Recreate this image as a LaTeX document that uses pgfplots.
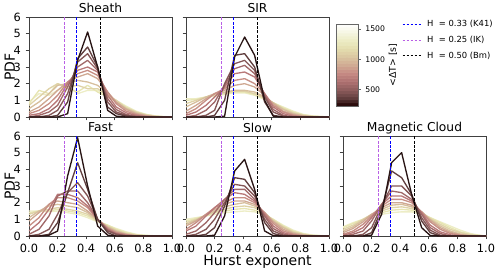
\documentclass[border=0pt]{standalone}
\usepackage{pgfplots}
\pgfplotsset{compat=1.18}
\usepackage{pgfplotstable}
\usepackage{fontspec}
\setmainfont{DejaVu Sans}

\definecolor{k01}{RGB}{40,20,20}
\definecolor{k02}{RGB}{96,62,62}
\definecolor{k03}{RGB}{132,86,86}
\definecolor{k04}{RGB}{160,104,104}
\definecolor{k05}{RGB}{184,120,120}
\definecolor{k06}{RGB}{199,143,133}
\definecolor{k07}{RGB}{207,168,146}
\definecolor{k08}{RGB}{215,191,157}
\definecolor{k09}{RGB}{223,211,168}
\definecolor{k10}{RGB}{231,229,178}
\definecolor{k11}{RGB}{237,237,198}
\definecolor{hik}{RGB}{185,95,230}

\pgfplotsset{
  colormap={mplpink}{rgb255=(30,0,0) rgb255=(101,66,66) rgb255=(143,93,93) rgb255=(176,114,114) rgb255=(198,139,132) rgb255=(208,171,147) rgb255=(218,198,161) rgb255=(228,222,174) rgb255=(237,237,198) rgb255=(246,246,228) rgb255=(255,255,255)},
  panel/.style={
    scale only axis, width=107.25pt, height=75pt, anchor=south west,
    xmin=0, xmax=1, ymin=0, ymax=6,
    xtick={0,0.2,0.4,0.6,0.8,1}, ytick={0,1,2,3,4,5,6},
    tick align=outside, tick pos=left, major tick length=2.6pt,
    axis line style={black!75, line width=0.5pt},
    tick style={black!75, line width=0.5pt},
    /pgf/number format/assume math mode=true,
    xticklabel style={font=\fontsize{8.5}{9}\selectfont, /pgf/number format/.cd, fixed, fixed zerofill, precision=1},
    yticklabel style={font=\fontsize{8.5}{9}\selectfont},
    every axis title shift=0pt,
    title style={font=\fontsize{9.2}{10}\selectfont, at={(axis description cs:0.5,1)}, anchor=base, yshift=3pt},
    ylabel style={font=\fontsize{10.5}{12}\selectfont, at={(axis description cs:-0.098,0.5)}, anchor=base, rotate=0},
    xlabel style={font=\fontsize{10.5}{12}\selectfont, at={(axis description cs:0.5,-0.29)}, anchor=base},
    every axis plot/.append style={line width=1.0pt, line join=round},
  },
}

\pgfplotstableread{
x c1 c2 c3 c4 c5 c6 c7 c8 c9 c10 c11
0.00 0 0 0 0 0.1 0.2 0.3 0.5 0.7 0.8 0.9
0.07 0 0 0 0.1 0.2 0.4 0.6 0.9 1.2 1.6 1.4
0.14 0 0 0.1 0.3 0.5 0.8 1.1 1.4 1.7 1.4 1.3
0.20 0 0.1 0.4 0.7 1.0 1.3 1.6 1.9 2.0 2.0 1.6
0.27 0.2 0.9 1.4 1.8 2.0 2.1 2.1 2.0 1.8 1.7 1.9
0.34 3.4 3.5 3.3 3.0 2.8 2.6 2.4 2.2 1.9 1.5 1.4
0.41 5.1 4.2 3.8 3.4 3.0 2.8 2.6 2.1 1.7 1.9 1.6
0.48 3.0 3.0 2.9 2.8 2.7 2.5 2.3 1.9 1.7 1.5 1.6
0.55 0.4 0.6 0.9 1.1 1.3 1.5 1.5 1.4 1.3 1.2 1.3
0.61 0.05 0.2 0.3 0.45 0.6 0.8 0.9 0.9 1.0 0.9 1.0
0.68 0 0.05 0.1 0.15 0.25 0.35 0.45 0.5 0.55 0.6 0.65
0.75 0 0 0 0.05 0.1 0.15 0.2 0.25 0.3 0.3 0.35
0.82 0 0 0 0 0 0.05 0.08 0.1 0.12 0.15 0.15
0.89 0 0 0 0 0 0 0 0.03 0.04 0.05 0.06
0.96 0 0 0 0 0 0 0 0 0 0 0.02
1.00 0 0 0 0 0 0 0 0 0 0 0
}\sheath

\pgfplotstableread{
x c1 c2 c3 c4 c5 c6 c7 c8 c9 c10 c11
0.00 0 0 0 0 0.1 0.2 0.35 0.6 0.8 1.0 1.1
0.07 0 0 0 0.1 0.3 0.5 0.7 0.9 1.0 1.05 1.1
0.14 0 0 0.1 0.4 0.7 1.0 1.1 1.2 1.2 1.2 1.2
0.20 0 0.1 0.4 0.9 1.2 1.4 1.4 1.4 1.35 1.3 1.25
0.27 0.05 1.0 2.0 1.9 1.8 1.7 1.6 1.5 1.45 1.4 1.35
0.34 3.6 3.7 3.2 2.9 2.6 2.2 1.9 1.6 1.55 1.5 1.45
0.41 4.8 3.8 3.4 3.1 2.7 2.3 2.0 1.6 1.55 1.5 1.45
0.48 3.7 3.0 2.8 2.6 2.4 2.0 1.8 1.5 1.4 1.35 1.3
0.55 1.0 0.9 1.2 1.3 1.4 1.4 1.3 1.2 1.15 1.1 1.05
0.61 0.05 0.1 0.3 0.45 0.6 0.7 0.8 0.85 0.85 0.85 0.85
0.68 0 0 0.05 0.1 0.2 0.3 0.35 0.45 0.5 0.55 0.6
0.75 0 0 0 0 0.05 0.1 0.15 0.2 0.25 0.3 0.35
0.82 0 0 0 0 0 0 0.05 0.08 0.1 0.12 0.15
0.89 0 0 0 0 0 0 0 0.02 0.03 0.05 0.06
0.96 0 0 0 0 0 0 0 0 0.01 0.02 0.02
1.00 0 0 0 0 0 0 0 0 0 0 0
}\sir

\pgfplotstableread{
x c1 c2 c3 c4 c5 c6 c7 c8 c9 c10 c11
0.00 0 0 0 0.1 0.3 0.6 0.9 1.1 1.3 1.4 1.5
0.07 0 0 0.1 0.4 0.8 1.1 1.4 1.5 1.5 1.5 1.5
0.14 0.05 0.1 0.4 1.2 1.6 1.9 1.9 1.8 1.6 1.5 1.45
0.20 0.3 0.8 1.3 2.4 2.5 2.3 2.1 1.9 1.7 1.6 1.5
0.27 3.6 2.6 2.6 2.7 2.5 2.3 2.0 1.8 1.6 1.5 1.4
0.34 5.9 4.4 3.2 2.7 2.3 2.1 1.9 1.7 1.5 1.4 1.3
0.41 3.0 2.8 2.4 2.0 1.8 1.7 1.5 1.4 1.3 1.2 1.1
0.48 0.6 1.0 1.0 1.0 1.0 1.0 1.0 0.95 0.9 0.9 0.85
0.55 0.05 0.2 0.3 0.35 0.4 0.45 0.5 0.55 0.6 0.65 0.65
0.61 0 0 0.1 0.12 0.15 0.2 0.25 0.3 0.35 0.4 0.45
0.68 0 0 0 0 0.05 0.08 0.1 0.12 0.15 0.2 0.25
0.75 0 0 0 0 0 0 0 0.05 0.06 0.08 0.1
0.82 0 0 0 0 0 0 0 0 0 0.03 0.04
0.89 0 0 0 0 0 0 0 0 0 0 0.01
0.96 0 0 0 0 0 0 0 0 0 0 0
1.00 0 0 0 0 0 0 0 0 0 0 0
}\fast

\pgfplotstableread{
x c1 c2 c3 c4 c5 c6 c7 c8 c9 c10 c11
0.00 0 0 0 0.1 0.3 0.4 0.6 0.7 0.8 0.9 1.0
0.07 0 0 0.1 0.3 0.6 0.8 0.9 0.95 1.0 1.05 1.1
0.14 0 0.1 0.4 0.8 1.2 1.3 1.3 1.25 1.25 1.2 1.2
0.20 0.05 0.5 1.0 1.4 1.7 1.7 1.6 1.5 1.45 1.4 1.3
0.27 1.2 1.8 2.0 2.2 2.2 2.0 1.9 1.75 1.6 1.5 1.4
0.34 3.9 3.5 3.1 2.8 2.6 2.3 2.1 1.9 1.75 1.6 1.45
0.41 4.6 3.4 3.0 2.8 2.5 2.3 2.1 2.0 1.8 1.65 1.5
0.48 2.8 2.6 2.4 2.2 2.1 2.0 1.9 1.8 1.7 1.55 1.45
0.55 0.3 0.8 1.0 1.2 1.3 1.4 1.4 1.4 1.35 1.3 1.25
0.61 0.02 0.15 0.3 0.45 0.6 0.75 0.85 0.9 0.95 1.0 1.0
0.68 0 0 0.05 0.12 0.2 0.3 0.4 0.5 0.55 0.6 0.65
0.75 0 0 0 0 0.05 0.1 0.15 0.2 0.25 0.3 0.35
0.82 0 0 0 0 0 0 0.05 0.08 0.1 0.12 0.15
0.89 0 0 0 0 0 0 0 0 0.03 0.04 0.05
0.96 0 0 0 0 0 0 0 0 0 0.01 0.02
1.00 0 0 0 0 0 0 0 0 0 0 0
}\slow

\pgfplotstableread{
x c1 c2 c3 c4 c5 c6 c7 c8 c9 c10 c11
0.00 0 0 0 0 0.05 0.1 0.2 0.3 0.4 0.5 0.55
0.07 0 0 0 0.1 0.2 0.3 0.45 0.55 0.65 0.75 0.8
0.14 0 0 0.1 0.3 0.5 0.7 0.85 0.95 1.0 1.0 1.0
0.20 0.05 0.2 0.5 0.9 1.1 1.2 1.3 1.3 1.3 1.25 1.2
0.27 1.3 1.6 1.8 1.9 1.9 1.8 1.7 1.6 1.5 1.4 1.3
0.34 4.4 3.9 3.0 2.7 2.4 2.2 2.0 1.85 1.7 1.55 1.4
0.41 5.0 3.5 3.0 2.6 2.4 2.2 2.0 1.9 1.75 1.6 1.45
0.48 2.5 2.5 2.4 2.2 2.1 2.0 1.85 1.75 1.65 1.55 1.45
0.55 0.5 0.9 1.1 1.3 1.4 1.45 1.45 1.45 1.4 1.35 1.3
0.61 0.03 0.2 0.35 0.5 0.65 0.85 0.95 1.0 1.05 1.1 1.1
0.68 0 0 0.05 0.15 0.25 0.4 0.5 0.6 0.7 0.8 0.85
0.75 0 0 0 0 0.07 0.15 0.22 0.3 0.4 0.5 0.6
0.82 0 0 0 0 0 0.05 0.08 0.12 0.2 0.25 0.35
0.89 0 0 0 0 0 0 0 0.04 0.08 0.1 0.15
0.96 0 0 0 0 0 0 0 0 0.02 0.03 0.04
1.00 0 0 0 0 0 0 0 0 0 0 0
}\mcloud

\newcommand{\drawcurves}[1]{%
  \addplot[k11] table[x=x,y=c11]{#1};
  \addplot[k10] table[x=x,y=c10]{#1};
  \addplot[k09] table[x=x,y=c9]{#1};
  \addplot[k08] table[x=x,y=c8]{#1};
  \addplot[k07] table[x=x,y=c7]{#1};
  \addplot[k06] table[x=x,y=c6]{#1};
  \addplot[k05] table[x=x,y=c5]{#1};
  \addplot[k04] table[x=x,y=c4]{#1};
  \addplot[k03] table[x=x,y=c3]{#1};
  \addplot[k02] table[x=x,y=c2]{#1};
  \addplot[k01] table[x=x,y=c1]{#1};
  \addplot[hik, line width=0.8pt, dash pattern=on 2.2pt off 1.1pt] coordinates {(0.25,0) (0.25,6)};
  \addplot[blue, line width=0.8pt, dash pattern=on 2.2pt off 1.1pt] coordinates {(0.33,0) (0.33,6)};
  \addplot[black, line width=0.8pt, dash pattern=on 2.2pt off 1.1pt] coordinates {(0.5,0) (0.5,6)};
}

\begin{document}
\begin{tikzpicture}
\path[use as bounding box] (0,0) rectangle (375pt,204pt);

\begin{axis}[panel, at={(21.75pt,116.25pt)}, title={Sheath}, xticklabels={}, ylabel={PDF}]
\drawcurves{\sheath}
\end{axis}

\begin{axis}[panel, at={(139.5pt,116.25pt)}, title={SIR}, xticklabels={}, yticklabels={}]
\drawcurves{\sir}
\end{axis}

\begin{axis}[panel, at={(21.75pt,27pt)}, title={Fast}, ylabel={PDF}]
\drawcurves{\fast}
\end{axis}

\begin{axis}[panel, at={(139.5pt,27pt)}, title={Slow}, yticklabels={}, xlabel={Hurst exponent}]
\drawcurves{\slow}
\end{axis}

\begin{axis}[panel, at={(257.25pt,27pt)}, title={Magnetic Cloud}, yticklabels={}]
\drawcurves{\mcloud}
\end{axis}

% colorbar + legend
\begin{axis}[scale only axis, width=16.5pt, height=61.5pt, at={(252pt,124.5pt)}, anchor=south west,
  xmin=0, xmax=1, ymin=230, ymax=1580, xtick=\empty, ytick={500,1000,1500},
  ytick pos=right, yticklabel pos=right, tick align=outside, major tick length=2pt,
  axis on top, axis line style={black!60, line width=0.4pt}, tick style={black!60, line width=0.4pt},
  /pgf/number format/assume math mode=true,
  yticklabel style={font=\fontsize{5.8}{7}\selectfont, /pgf/number format/1000 sep={}},
  ylabel={<ΔT> [s]},
  ylabel style={font=\fontsize{7}{8}\selectfont, at={(axis description cs:2.72,0.5)}, anchor=base, rotate=0},
  colormap name=mplpink, point meta min=230, point meta max=1580,
  legend style={at={(3.0,1.085)}, anchor=north west, draw=none, fill=none, inner sep=0pt,
    font=\fontsize{6.3}{7}\selectfont, row sep=1.6pt, cells={anchor=west}},
  legend image code/.code={\draw[#1] (0pt,0pt) -- (13.5pt,0pt);},
]
\addplot[matrix plot*, mesh/cols=2, point meta=y, forget plot] coordinates {
(0.25,255) (0.75,255) (0.25,305) (0.75,305) (0.25,355) (0.75,355) (0.25,405) (0.75,405)
(0.25,455) (0.75,455) (0.25,505) (0.75,505) (0.25,555) (0.75,555) (0.25,605) (0.75,605)
(0.25,655) (0.75,655) (0.25,705) (0.75,705) (0.25,755) (0.75,755) (0.25,805) (0.75,805)
(0.25,855) (0.75,855) (0.25,905) (0.75,905) (0.25,955) (0.75,955) (0.25,1005) (0.75,1005)
(0.25,1055) (0.75,1055) (0.25,1105) (0.75,1105) (0.25,1155) (0.75,1155) (0.25,1205) (0.75,1205)
(0.25,1255) (0.75,1255) (0.25,1305) (0.75,1305) (0.25,1355) (0.75,1355) (0.25,1405) (0.75,1405)
(0.25,1455) (0.75,1455) (0.25,1505) (0.75,1505) (0.25,1555) (0.75,1555)
};
\addlegendimage{blue, line width=0.7pt, dash pattern=on 2pt off 1pt}
\addlegendentry{\hspace{2.5pt}H\ \ = 0.33 (K41)}
\addlegendimage{hik, line width=0.7pt, dash pattern=on 2pt off 1pt}
\addlegendentry{\hspace{2.5pt}H\ \ = 0.25 (IK)}
\addlegendimage{black, line width=0.7pt, dash pattern=on 2pt off 1pt}
\addlegendentry{\hspace{2.5pt}H\ \ = 0.50 (Bm)}
\end{axis}
\end{tikzpicture}
\end{document}
